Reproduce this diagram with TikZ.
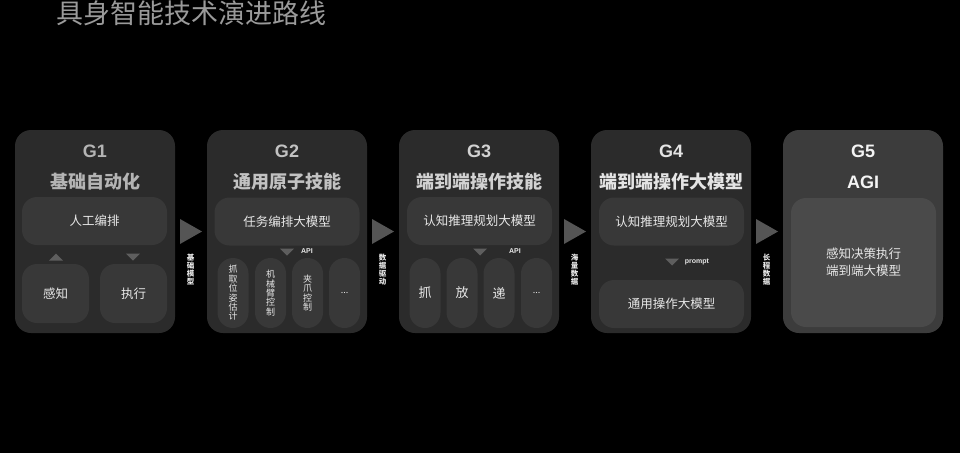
\documentclass[tikz,border=0pt]{standalone}
\usepackage{fontspec}
\setmainfont{Noto Sans CJK SC}
\newfontfamily\latinf{Liberation Sans}
\usetikzlibrary{calc}
\definecolor{panelc}{HTML}{2B2B2B}
\definecolor{innerc}{HTML}{383838}
\definecolor{panelv}{HTML}{3C3C3C}
\definecolor{innerv}{HTML}{4A4A4A}
\definecolor{tric}{HTML}{555555}
\definecolor{stri}{HTML}{5E5E5E}
\definecolor{txt}{HTML}{E8E8E8}
\definecolor{ttl}{HTML}{9A9A9A}
\definecolor{hA}{HTML}{B4B4B4}
\definecolor{hB}{HTML}{C2C2C2}
\definecolor{hC}{HTML}{D2D2D2}
\definecolor{hD}{HTML}{E4E4E4}
\definecolor{hE}{HTML}{F4F4F4}
\tikzset{
  panel/.style={fill=panelc, rounded corners=16pt, minimum width=160pt, minimum height=203pt, inner sep=0pt},
  gtitle/.style={font=\fontsize{18}{20}\selectfont\bfseries, inner sep=0pt},
  gnum/.style={font=\latinf\fontsize{18}{20}\selectfont\bfseries, inner sep=0pt},
  ibox/.style={fill=innerc, rounded corners=15pt, minimum width=145pt, minimum height=48pt, inner sep=0pt, text=txt, font=\fontsize{12.5}{14}\selectfont},
  sbox/.style={fill=innerc, rounded corners=15pt, minimum width=67pt, minimum height=59pt, inner sep=0pt, text=txt, font=\fontsize{12.5}{14}\selectfont},
  pill/.style={fill=innerc, rounded corners=15.5pt, minimum width=31pt, minimum height=70pt, inner sep=0pt, text=txt, align=center, font=\fontsize{9}{9.4}\selectfont},
  pillh/.style={pill, font=\fontsize{13}{14}\selectfont},
  bigtri/.style={fill=tric},
  smtri/.style={fill=stri},
  vlab/.style={text=txt, align=center, inner sep=0pt, font=\fontsize{7.5}{8.2}\selectfont\bfseries},
  small/.style={text=txt, inner sep=0pt, font=\latinf\fontsize{7}{8}\selectfont\bfseries},
}
\begin{document}
\begin{tikzpicture}[x=1pt,y=-1pt]
\fill[black] (0,0) rectangle (960,453);
\path[use as bounding box] (0,0) rectangle (960,453);

\node[text=ttl, anchor=west, inner sep=0pt, font=\fontsize{27}{30}\selectfont] (title) at (56,13) {具身智能技术演进路线};

% panels
\node[panel] (g1) at (95,231.5) {};
\node[panel] (g2) at (287,231.5) {};
\node[panel] (g3) at (479,231.5) {};
\node[panel] (g4) at (671,231.5) {};
\node[panel, fill=panelv] (g5) at (863,231.5) {};

% G1
\node[gnum, text=hA] (g1n) at (95,151) {G1};
\node[gtitle, text=hA] (g1t) at (95,182) {基础自动化};
\node[ibox] (g1a) at (94.5,221) {人工编排};
\node[sbox] (g1b) at (55.5,293.5) {感知};
\node[sbox] (g1c) at (133.5,293.5) {执行};
\fill[smtri] (49,260.5) -- (63,260.5) -- (56,253.5) -- cycle;
\fill[smtri] (126,253.5) -- (140,253.5) -- (133,260.5) -- cycle;

% G2
\node[gnum, text=hB] (g2n) at (287,151) {G2};
\node[gtitle, text=hB] (g2t) at (287,182) {通用原子技能};
\node[ibox] (g2a) at (287,221.5) {任务编排大模型};
\fill[smtri] (280,248.5) -- (294,248.5) -- (287,255.5) -- cycle;
\node[small] (g2api) at (307,251) {API};
\node[pill] (g2p1) at (233,293) {抓\\取\\位\\姿\\估\\计};
\node[pill] (g2p2) at (270.5,293) {机\\械\\臂\\控\\制};
\node[pill] (g2p3) at (307.5,293) {夹\\爪\\控\\制};
\node[pill] (g2p4) at (344.5,293) {...};

% G3
\node[gnum, text=hC] (g3n) at (479,151) {G3};
\node[gtitle, text=hC] (g3t) at (479,182) {端到端操作技能};
\node[ibox] (g3a) at (479.5,221) {认知推理规划大模型};
\fill[smtri] (473,248.5) -- (487,248.5) -- (480,255.5) -- cycle;
\node[small] (g3api) at (515,251) {API};
\node[pillh] (g3p1) at (425,293) {抓};
\node[pillh] (g3p2) at (462,293) {放};
\node[pillh] (g3p3) at (499,293) {递};
\node[pill] (g3p4) at (536.5,293) {...};

% G4
\node[gnum, text=hD] (g4n) at (671,151) {G4};
\node[gtitle, text=hD] (g4t) at (671,182) {端到端操作大模型};
\node[ibox] (g4a) at (671.5,221.5) {认知推理规划大模型};
\fill[smtri] (665,258.5) -- (679,258.5) -- (672,265.5) -- cycle;
\node[small] (g4pr) at (697,261.5) {prompt};
\node[ibox] (g4b) at (671.5,304) {通用操作大模型};

% G5
\node[gnum, text=hE] (g5n) at (863,151) {G5};
\node[gnum, text=hE] (g5t) at (863,182) {AGI};
\node[ibox, fill=innerv, minimum height=129pt, align=center, font=\fontsize{12.5}{17}\selectfont] (g5a) at (863.5,262.5) {感知决策执行\\端到端大模型};

% big arrows between panels
\foreach \a/\b/\lab [count=\i] in {g1/g2/基\\础\\模\\型, g2/g3/数\\据\\驱\\动, g3/g4/海\\量\\数\\据, g4/g5/长\\程\\数\\据}{
  \coordinate (m\i) at ($(\a.east)!0.5!(\b.west)$);
  \fill[bigtri] ($(m\i)+(-11,-12.5)$) -- ($(m\i)+(11,0)$) -- ($(m\i)+(-11,12.5)$) -- cycle;
  \node[vlab] (lab\i) at ($(m\i)+(-0.5,38)$) {\lab};
}
\end{tikzpicture}
\end{document}
